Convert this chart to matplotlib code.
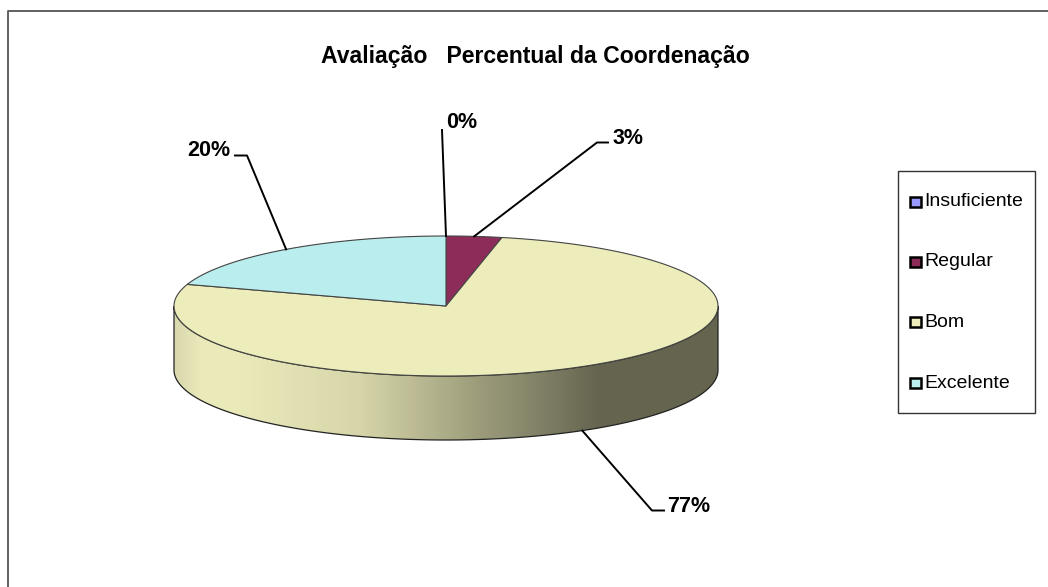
import numpy as np
import matplotlib
matplotlib.use("Agg")
import matplotlib.pyplot as plt
from matplotlib.colors import LinearSegmentedColormap
from matplotlib.patches import Polygon, Rectangle

plt.rcParams["font.family"] = ["Liberation Sans", "DejaVu Sans"]

# ===========================
# DATA
# ===========================
title = "Avaliação   Percentual da Coordenação"
categories = ["Insuficiente", "Regular", "Bom", "Excelente"]
values = [0, 3.3, 76.7, 20]
colors = ["#9999FF", "#8D2C58", "#EDEDBC", "#BAEDED"]

# label centre and leader line elbow, one per category
label_pos = [(462, 123), (628, 138), (689, 507), (209, 150)]
elbows = [(442, 130), (597, 142.5), (652, 510.5), (247, 155.5)]
tails = [0, 11, 12, -12]

# ===========================
# LAYOUT
# ===========================
W, H = 1048, 587
cx, cy, rx, ry, depth = 446, 306, 272, 70, 64

fig = plt.figure(figsize=(W / 100, H / 100), dpi=100)
ax = fig.add_axes([0, 0, 1, 1])
ax.set_xlim(0, W)
ax.set_ylim(H, 0)
ax.axis("off")

# chart frame, runs off the picture at right and bottom
ax.plot([7.5, 7.5, W], [H, 11, 11], color="#555555", lw=1.3)

ax.text(535.5, 56, title, ha="center", va="center", fontsize=16.6, fontweight="bold")


def ell(deg, dy=0):
    t = np.radians(deg)
    return cx + rx * np.sin(t), cy - ry * np.cos(t) + dy


# ===========================
# SIDE WALL
# ===========================
t = np.linspace(90, 270, 200)
top = np.array([ell(a) for a in t])
bot = np.array([ell(a, depth) for a in t])
side = np.vstack([top, bot[::-1]])

cmap = LinearSegmentedColormap.from_list("side", [
    (0.0, "#DAD9AE"), (0.05, "#EBEABB"), (0.12, "#EAE9BA"), (0.34, "#D7D6AA"),
    (0.526, "#A5A582"), (0.69, "#7D7D64"), (0.78, "#666650"), (1.0, "#64644F"),
])
grad = np.linspace(0, 1, 400).reshape(1, -1)
im = ax.imshow(grad, cmap=cmap, extent=[cx - rx, cx + rx, cy + ry + depth, cy],
               aspect="auto", zorder=2)
im.set_clip_path(Polygon(side, closed=True, transform=ax.transData))
ax.set_xlim(0, W)
ax.set_ylim(H, 0)
ax.add_patch(Polygon(side, closed=True, fill=False, ec="#222222", lw=0.9, zorder=3))

# ===========================
# TOP FACE + LEADERS
# ===========================
start = 0
mids = []
for val, col in zip(values, colors):
    sweep = val * 3.6
    mids.append(start + sweep / 2)
    if val > 0:
        a = np.linspace(start, start + sweep, 200)
        pts = [(cx, cy)] + [ell(x) for x in a]
        ax.add_patch(Polygon(pts, closed=True, fc=col, ec="#444444", lw=0.8, zorder=4))
    start += sweep

for val, pos, elbow, tail, mid in zip(values, label_pos, elbows, tails, mids):
    x0, y0 = ell(mid, depth if 90 < mid < 270 else 0)
    ax.plot([x0, elbow[0], elbow[0] + tail], [y0, elbow[1], elbow[1]],
            color="black", lw=1.4, zorder=5)
    ax.text(pos[0], pos[1], f"{val:.0f}%", ha="center", va="center", fontsize=15.5,
            fontweight="bold", zorder=6)

# ===========================
# LEGEND
# ===========================
ax.add_patch(Rectangle((898, 171), 137, 242, fc="white", ec="#333333", lw=1, zorder=2))
legend_y = [201.5, 261.5, 322, 382.5]
for cat, col, y in zip(categories, colors, legend_y):
    ax.add_patch(Rectangle((910, y - 5), 10.5, 10, fc=col, ec="black", lw=1.8, zorder=3))
    ax.text(924.5, y + 0.5, cat, ha="left", va="center", fontsize=14, zorder=3)

fig.savefig("out.png", dpi=100)
